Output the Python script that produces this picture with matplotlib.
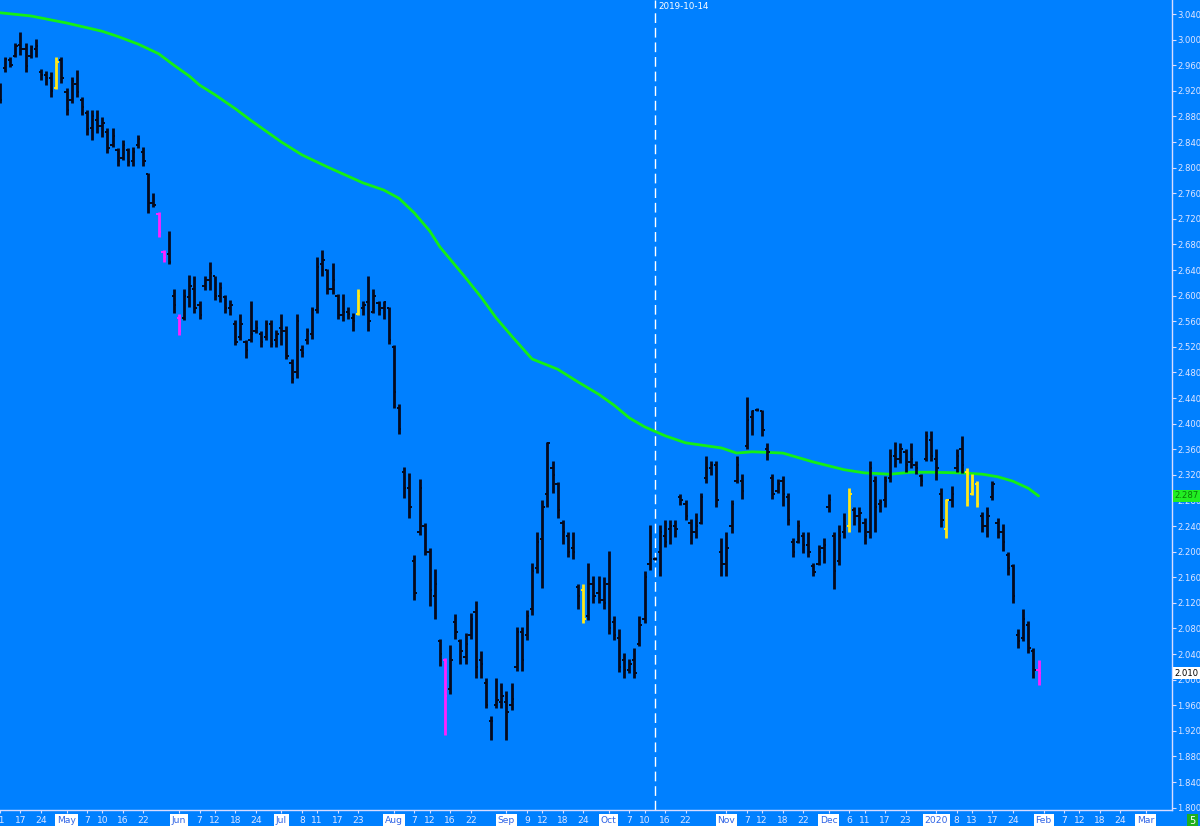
"""Daily yield bars with moving average, blue terminal-style chart."""
import matplotlib

matplotlib.use("Agg")
import matplotlib.pyplot as plt
import matplotlib.transforms as mtransforms
import numpy as np
import pandas as pd

BG = "#0080FF"
TXT = "#E2E6FF"

# trading calendar (bond market holidays skipped up to the last bar)
FIRST_DAY = "2019-04-11"
LAST_BAR = "2020-01-31"
LAST_DAY = "2020-03-13"
HOLIDAYS = ["2019-04-19", "2019-05-27", "2019-07-04", "2019-09-02",
            "2019-11-28", "2019-12-25", "2020-01-01", "2020-01-20"]

bar_high = [
    2.932, 2.973, 2.973, 2.995, 3.012, 2.995, 2.992, 3.001, 2.954, 2.951,
    2.950, 2.973, 2.973, 2.924, 2.942, 2.953, 2.910, 2.890, 2.890, 2.890,
    2.879, 2.862, 2.862, 2.831, 2.843, 2.831, 2.832, 2.851, 2.832, 2.792,
    2.760, 2.731, 2.671, 2.701, 2.610, 2.571, 2.610, 2.632, 2.631, 2.592,
    2.631, 2.653, 2.631, 2.621, 2.601, 2.593, 2.562, 2.571, 2.531, 2.592,
    2.562, 2.544, 2.562, 2.562, 2.547, 2.571, 2.552, 2.501, 2.571, 2.523,
    2.550, 2.582, 2.661, 2.671, 2.642, 2.651, 2.603, 2.602, 2.582, 2.573,
    2.610, 2.592, 2.631, 2.610, 2.592, 2.592, 2.582, 2.523, 2.431, 2.333,
    2.323, 2.194, 2.313, 2.244, 2.205, 2.173, 2.063, 2.034, 2.054, 2.102,
    2.064, 2.073, 2.104, 2.123, 2.044, 2.003, 1.943, 2.003, 1.994, 1.982,
    1.994, 2.083, 2.082, 2.109, 2.182, 2.230, 2.281, 2.372, 2.342, 2.309,
    2.250, 2.231, 2.231, 2.150, 2.150, 2.182, 2.162, 2.162, 2.161, 2.201,
    2.099, 2.079, 2.041, 2.033, 2.049, 2.099, 2.170, 2.241, 2.192, 2.241,
    2.250, 2.250, 2.250, 2.290, 2.281, 2.251, 2.261, 2.291, 2.350, 2.341,
    2.342, 2.221, 2.230, 2.281, 2.349, 2.321, 2.441, 2.422, 2.424, 2.421,
    2.370, 2.322, 2.314, 2.318, 2.291, 2.221, 2.250, 2.230, 2.231, 2.182,
    2.210, 2.221, 2.290, 2.231, 2.242, 2.261, 2.300, 2.270, 2.270, 2.252,
    2.342, 2.318, 2.283, 2.318, 2.361, 2.372, 2.370, 2.361, 2.370, 2.342,
    2.322, 2.389, 2.389, 2.361, 2.300, 2.282, 2.302, 2.361, 2.381, 2.330,
    2.321, 2.311, 2.262, 2.270, 2.311, 2.252, 2.243, 2.200, 2.181, 2.079,
    2.110, 2.092, 2.050, 2.030,
]
bar_low = [
    2.901, 2.950, 2.957, 2.973, 2.976, 2.950, 2.971, 2.973, 2.937, 2.929,
    2.910, 2.923, 2.932, 2.882, 2.901, 2.910, 2.882, 2.851, 2.843, 2.854,
    2.848, 2.823, 2.832, 2.803, 2.812, 2.803, 2.803, 2.831, 2.803, 2.729,
    2.738, 2.692, 2.653, 2.649, 2.573, 2.538, 2.562, 2.582, 2.573, 2.563,
    2.609, 2.609, 2.593, 2.590, 2.573, 2.570, 2.523, 2.531, 2.503, 2.528,
    2.542, 2.520, 2.531, 2.520, 2.520, 2.523, 2.501, 2.464, 2.471, 2.504,
    2.525, 2.533, 2.573, 2.630, 2.603, 2.603, 2.564, 2.561, 2.564, 2.544,
    2.570, 2.570, 2.544, 2.573, 2.570, 2.564, 2.524, 2.425, 2.384, 2.284,
    2.253, 2.125, 2.226, 2.194, 2.115, 2.094, 2.022, 1.914, 1.977, 2.064,
    2.024, 2.024, 2.064, 2.003, 2.003, 1.956, 1.905, 1.956, 1.956, 1.905,
    1.953, 2.014, 2.014, 2.062, 2.101, 2.166, 2.143, 2.269, 2.291, 2.252,
    2.212, 2.191, 2.189, 2.111, 2.088, 2.093, 2.119, 2.119, 2.111, 2.072,
    2.062, 2.012, 2.002, 2.010, 2.002, 2.052, 2.089, 2.171, 2.187, 2.162,
    2.208, 2.212, 2.223, 2.273, 2.249, 2.212, 2.222, 2.243, 2.308, 2.320,
    2.269, 2.162, 2.162, 2.229, 2.308, 2.282, 2.360, 2.382, 2.419, 2.380,
    2.343, 2.282, 2.291, 2.272, 2.242, 2.192, 2.213, 2.198, 2.192, 2.162,
    2.179, 2.182, 2.262, 2.142, 2.179, 2.221, 2.231, 2.242, 2.231, 2.212,
    2.222, 2.231, 2.262, 2.269, 2.309, 2.332, 2.339, 2.325, 2.330, 2.322,
    2.302, 2.341, 2.342, 2.312, 2.239, 2.222, 2.269, 2.325, 2.323, 2.271,
    2.288, 2.269, 2.231, 2.223, 2.281, 2.222, 2.201, 2.163, 2.120, 2.049,
    2.061, 2.041, 2.002, 1.992,
]
bar_open = [
    2.928, 2.955, 2.968, 2.975, 2.992, 2.985, 2.975, 2.985, 2.950, 2.945,
    2.940, 2.925, 2.968, 2.918, 2.905, 2.930, 2.905, 2.885, 2.862, 2.875,
    2.865, 2.855, 2.835, 2.828, 2.815, 2.828, 2.810, 2.835, 2.825, 2.790,
    2.745, 2.728, 2.668, 2.665, 2.600, 2.565, 2.565, 2.598, 2.610, 2.585,
    2.615, 2.625, 2.630, 2.600, 2.598, 2.580, 2.555, 2.535, 2.528, 2.530,
    2.545, 2.540, 2.535, 2.555, 2.530, 2.550, 2.545, 2.495, 2.480, 2.515,
    2.530, 2.540, 2.578, 2.650, 2.640, 2.610, 2.600, 2.570, 2.575, 2.565,
    2.572, 2.580, 2.590, 2.575, 2.588, 2.580, 2.580, 2.520, 2.425, 2.325,
    2.300, 2.185, 2.230, 2.240, 2.200, 2.130, 2.060, 2.030, 1.985, 2.090,
    2.060, 2.035, 2.070, 2.105, 2.030, 1.995, 1.935, 1.960, 1.965, 1.965,
    1.960, 2.020, 2.075, 2.070, 2.110, 2.175, 2.220, 2.290, 2.330, 2.305,
    2.245, 2.225, 2.205, 2.145, 2.140, 2.100, 2.150, 2.135, 2.125, 2.150,
    2.090, 2.065, 2.030, 2.015, 2.030, 2.055, 2.095, 2.180, 2.189, 2.200,
    2.225, 2.235, 2.240, 2.285, 2.275, 2.245, 2.230, 2.245, 2.315, 2.330,
    2.335, 2.200, 2.180, 2.240, 2.310, 2.310, 2.365, 2.410, 2.421, 2.420,
    2.360, 2.315, 2.295, 2.310, 2.285, 2.215, 2.215, 2.225, 2.210, 2.178,
    2.180, 2.205, 2.270, 2.225, 2.185, 2.230, 2.240, 2.265, 2.255, 2.245,
    2.230, 2.310, 2.275, 2.280, 2.315, 2.350, 2.345, 2.355, 2.340, 2.335,
    2.318, 2.345, 2.375, 2.345, 2.290, 2.235, 2.280, 2.330, 2.360, 2.325,
    2.290, 2.305, 2.255, 2.240, 2.285, 2.245, 2.230, 2.195, 2.178, 2.070,
    2.065, 2.085, 2.045, 2.015,
]
bar_close = [
    2.905, 2.970, 2.960, 2.990, 2.985, 2.958, 2.988, 2.990, 2.945, 2.940,
    2.920, 2.965, 2.940, 2.890, 2.935, 2.918, 2.895, 2.860, 2.880, 2.865,
    2.870, 2.830, 2.850, 2.810, 2.835, 2.808, 2.825, 2.845, 2.810, 2.745,
    2.742, 2.700, 2.660, 2.652, 2.585, 2.545, 2.600, 2.615, 2.580, 2.570,
    2.625, 2.635, 2.600, 2.612, 2.580, 2.585, 2.528, 2.555, 2.515, 2.540,
    2.550, 2.528, 2.555, 2.525, 2.540, 2.545, 2.505, 2.470, 2.560, 2.510,
    2.545, 2.578, 2.645, 2.655, 2.610, 2.625, 2.570, 2.575, 2.572, 2.560,
    2.600, 2.585, 2.560, 2.600, 2.578, 2.590, 2.530, 2.450, 2.392, 2.300,
    2.270, 2.135, 2.300, 2.200, 2.140, 2.150, 2.040, 1.975, 2.030, 2.075,
    2.045, 2.055, 2.095, 2.020, 2.025, 1.960, 1.935, 1.968, 1.975, 1.950,
    1.970, 2.075, 2.030, 2.100, 2.170, 2.215, 2.270, 2.370, 2.320, 2.265,
    2.230, 2.200, 2.200, 2.130, 2.095, 2.150, 2.130, 2.125, 2.120, 2.080,
    2.070, 2.020, 2.015, 2.025, 2.010, 2.085, 2.160, 2.189, 2.189, 2.230,
    2.215, 2.240, 2.235, 2.280, 2.255, 2.230, 2.240, 2.285, 2.330, 2.335,
    2.280, 2.180, 2.205, 2.275, 2.335, 2.295, 2.405, 2.420, 2.421, 2.390,
    2.355, 2.290, 2.305, 2.290, 2.250, 2.200, 2.240, 2.210, 2.200, 2.168,
    2.200, 2.210, 2.280, 2.170, 2.225, 2.240, 2.290, 2.255, 2.260, 2.225,
    2.330, 2.270, 2.278, 2.310, 2.350, 2.345, 2.360, 2.335, 2.345, 2.330,
    2.310, 2.380, 2.350, 2.330, 2.250, 2.280, 2.290, 2.350, 2.335, 2.280,
    2.310, 2.275, 2.240, 2.255, 2.305, 2.230, 2.215, 2.175, 2.130, 2.060,
    2.095, 2.050, 2.015, 2.010,
]

yellow_bars = ["2019-04-29", "2019-07-23", "2019-09-24", "2019-12-06",
               "2020-01-06", "2020-01-10", "2020-01-13", "2020-01-14"]
magenta_bars = ["2019-05-28", "2019-05-29", "2019-06-03", "2019-08-15",
                "2020-01-31"]

ma_dates = [
    "2019-04-11", "2019-04-22", "2019-05-01", "2019-05-10", "2019-05-15",
    "2019-05-21", "2019-05-28", "2019-05-31", "2019-06-05", "2019-06-07",
    "2019-06-12", "2019-06-18", "2019-06-21", "2019-06-26", "2019-07-01",
    "2019-07-08", "2019-07-15", "2019-07-24", "2019-07-30", "2019-08-02",
    "2019-08-07", "2019-08-12", "2019-08-14", "2019-08-21", "2019-08-26",
    "2019-08-29", "2019-09-04", "2019-09-10", "2019-09-17", "2019-09-23",
    "2019-09-27", "2019-10-02", "2019-10-07", "2019-10-10", "2019-10-16",
    "2019-10-22", "2019-10-31", "2019-11-05", "2019-11-08", "2019-11-18",
    "2019-11-26", "2019-12-05", "2019-12-11", "2019-12-18", "2019-12-24",
    "2019-12-31", "2020-01-09", "2020-01-15", "2020-01-21", "2020-01-24",
    "2020-01-29", "2020-01-31",
]
ma_values = [
    3.042, 3.037, 3.026, 3.013, 3.005, 2.993, 2.978, 2.960, 2.943, 2.929,
    2.914, 2.892, 2.874, 2.857, 2.840, 2.820, 2.801, 2.776, 2.765, 2.752,
    2.729, 2.701, 2.676, 2.628, 2.598, 2.565, 2.537, 2.501, 2.485, 2.465,
    2.446, 2.429, 2.409, 2.395, 2.381, 2.370, 2.362, 2.354, 2.356, 2.354,
    2.340, 2.328, 2.323, 2.321, 2.324, 2.324, 2.323, 2.321, 2.317, 2.310,
    2.299, 2.287,
]

day_ticks = [
    "2019-04-11", "2019-04-17", "2019-04-24", "2019-05-07", "2019-05-10",
    "2019-05-16", "2019-05-22", "2019-06-07", "2019-06-12", "2019-06-18",
    "2019-06-24", "2019-07-08", "2019-07-11", "2019-07-17", "2019-07-23",
    "2019-08-07", "2019-08-12", "2019-08-16", "2019-08-22", "2019-09-09",
    "2019-09-12", "2019-09-18", "2019-09-24", "2019-10-07", "2019-10-10",
    "2019-10-16", "2019-10-22", "2019-11-07", "2019-11-12", "2019-11-18",
    "2019-11-22", "2019-12-06", "2019-12-11", "2019-12-17", "2019-12-23",
    "2020-01-08", "2020-01-13", "2020-01-17", "2020-01-24", "2020-02-07",
    "2020-02-12", "2020-02-18", "2020-02-24",
]
month_ticks = ["2019-05-01", "2019-06-03", "2019-07-01", "2019-08-01",
               "2019-09-03", "2019-10-01", "2019-11-01", "2019-12-02",
               "2020-01-02", "2020-02-03", "2020-03-02"]
month_labels = ["May", "Jun", "Jul", "Aug", "Sep", "Oct", "Nov", "Dec",
                "2020", "Feb", "Mar"]

marker_date = "2019-10-14"
ma_last = 2.287
last_close = 2.010


def main() -> None:
    n = len(bar_high)
    if not (len(bar_low) == len(bar_open) == len(bar_close) == n):
        raise ValueError("bar arrays differ in length")

    days = pd.bdate_range(FIRST_DAY, LAST_DAY)
    hol = pd.to_datetime(HOLIDAYS)
    cal = [d for d in days if not (d <= pd.Timestamp(LAST_BAR) and d in hol)]
    pos = {d.strftime("%Y-%m-%d"): i for i, d in enumerate(cal)}
    bar_dates = [d.strftime("%Y-%m-%d") for d in cal[:n]]
    x = np.array([pos[d] for d in bar_dates], dtype=float)

    colors = []
    for d in bar_dates:
        if d in yellow_bars:
            colors.append("#FFE81A")
        elif d in magenta_bars:
            colors.append("#FF22FF")
        else:
            colors.append("#050A1E")

    fig = plt.figure(figsize=(12, 8.26), dpi=100, facecolor=BG)
    ax = fig.add_axes([0, 16 / 826, 1172 / 1200, 810 / 826])
    ax.set_facecolor(BG)

    ax.vlines(x, bar_low, bar_high, colors=colors, lw=2.0, zorder=3)
    ax.hlines(bar_open, x - 0.45, x, colors=colors, lw=1.4, zorder=3)
    ax.hlines(bar_close, x, x + 0.45, colors=colors, lw=1.4, zorder=3)

    ax.plot([pos[d] for d in ma_dates], ma_values, color="#14F014",
            lw=2.0, zorder=2, solid_capstyle="round",
            solid_joinstyle="round")

    xm = pos[marker_date]
    ax.axvline(xm, color="white", lw=1.0, dashes=(7, 3.5), zorder=1)
    ax.text(xm + 0.6, 3.058, marker_date, color="white", fontsize=6.3,
            va="top", ha="left")

    ax.set_xlim(0.09, 229.09)
    ax.set_ylim(1.7963, 3.0619)

    # right price axis
    ax.yaxis.tick_right()
    yt = np.arange(1.80, 3.0401, 0.04)
    ax.set_yticks(yt, [f"{v:.3f}" for v in yt])
    ax.tick_params(axis="y", direction="out", length=3, width=0.8,
                   colors="#D8DCFF", labelcolor=TXT, labelsize=6.1, pad=1)

    # bottom date axis
    tick_pos = [pos[d] for d in day_ticks] + [pos[d] for d in month_ticks]
    tick_lab = [str(int(d[-2:])) for d in day_ticks] + month_labels
    ax.set_xticks(tick_pos, tick_lab)
    ax.tick_params(axis="x", direction="out", length=2.5, width=0.8,
                   colors="#D8DCFF", labelcolor=TXT, labelsize=6.6, pad=1.5)
    for lbl in ax.get_xticklabels():
        if lbl.get_text() in month_labels:
            lbl.set_color("#2F64E6")
            lbl.set_bbox(dict(facecolor="white", edgecolor="none",
                              boxstyle="square,pad=0.2"))

    for side in ("top", "left"):
        ax.spines[side].set_visible(False)
    for side in ("right", "bottom"):
        ax.spines[side].set_color("#D8DCFF")
        ax.spines[side].set_linewidth(1.0)

    tr = mtransforms.blended_transform_factory(ax.transAxes, ax.transData)
    ax.text(1.002, ma_last, f"{ma_last:.3f}", transform=tr, clip_on=False,
            fontsize=6.1, color="#0A7A0A", va="center", ha="left", zorder=5,
            bbox=dict(facecolor="#22EE22", edgecolor="none",
                      boxstyle="square,pad=0.15"))
    ax.text(1.002, last_close, f"{last_close:.3f}", transform=tr,
            clip_on=False, fontsize=6.1, color="black", va="center",
            ha="left", zorder=5,
            bbox=dict(facecolor="white", edgecolor="none",
                      boxstyle="square,pad=0.15"))

    fig.text(0.9935, 0.0, "5", color="white", fontsize=7, ha="center",
             va="bottom", bbox=dict(facecolor="#1FAF1F", edgecolor="none",
                                    boxstyle="square,pad=0.25"))

    fig.savefig("out.png", dpi=100, facecolor=BG)
    plt.close(fig)


if __name__ == "__main__":
    main()
